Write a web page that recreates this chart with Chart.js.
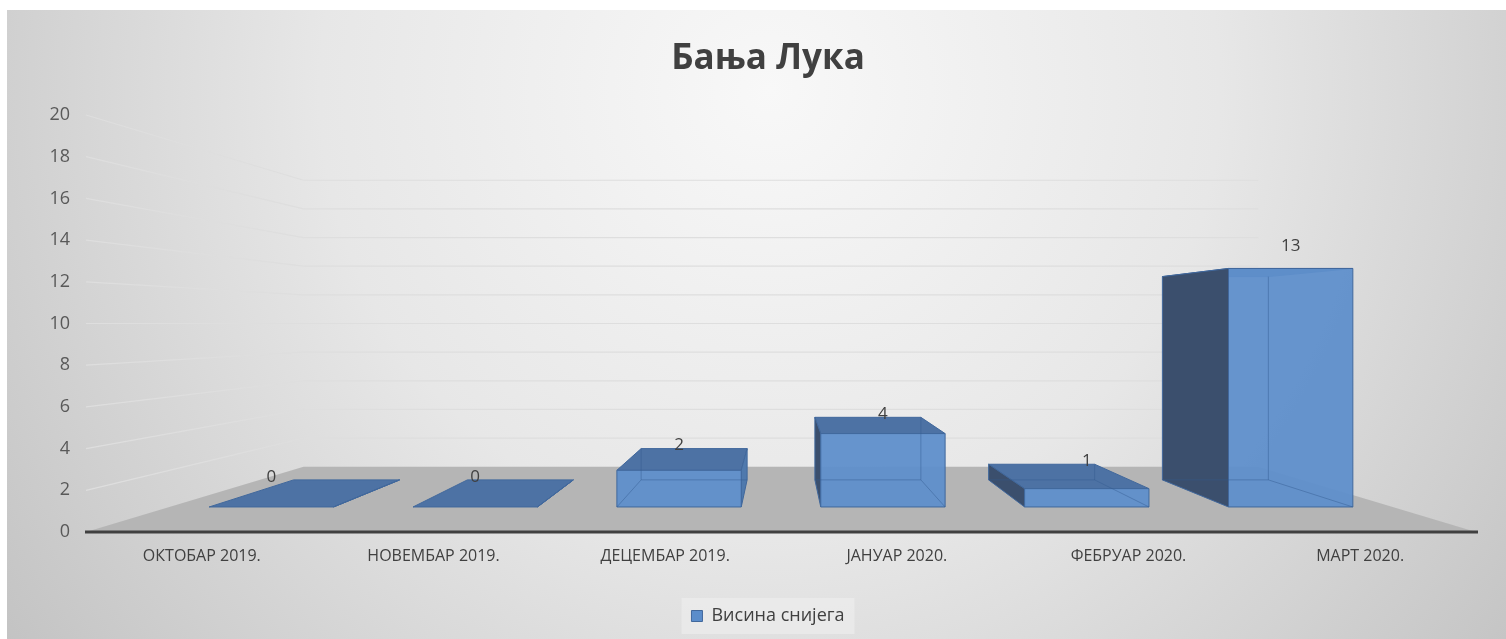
<!DOCTYPE html>
<html>
<head>
<meta charset="utf-8">
<title>Бања Лука</title>
<script src="https://cdn.jsdelivr.net/npm/chart.js@4/dist/chart.umd.min.js"></script>
<style>
  html, body { margin: 0; padding: 0; background: #ffffff; }
  #chart { display: block; }
</style>
</head>
<body>
<canvas id="chart" width="1506" height="639"></canvas>
<script>
'use strict';

// Chart data
const categories = ['ОКТОБАР 2019.', 'НОВЕМБАР 2019.', 'ДЕЦЕМБАР 2019.', 'ЈАНУАР 2020.', 'ФЕБРУАР 2020.', 'МАРТ 2020.'];
const snowDepth = [0, 0, 2, 4, 1, 13];
const seriesName = 'Висина снијега';
const chartTitle = 'Бања Лука';
const yMin = 0;
const yMax = 20;
const yStep = 2;

// Perspective: depth factors toward the plot centre (front plane = 1)
const WALL_DEPTH = 0.687;
const BAR_FRONT = 0.88;
const BAR_BACK = 0.75;

const FONT = "'Open Sans', 'Noto Sans', sans-serif";

const colors = {
  front: 'rgba(95, 143, 203, 0.95)',
  top: '#4d72a4',
  sideDark: '#3b4f6d',
  sideLight: '#4f79ad',
  edge: '#41689c',
  hidden: 'rgba(50, 90, 145, 0.45)',
  floor: '#b5b5b5',
  grid: '#dedede',
  axis: '#404040',
  text: '#404040',
  tick: '#595959',
};

/**
 * Move a point toward the vanishing point by depth factor k
 */
function project(x, y, k, vp) {
  return { x: vp.x + (x - vp.x) * k, y: vp.y + (y - vp.y) * k };
}

function poly(ctx, pts, fill, stroke) {
  ctx.beginPath();
  ctx.moveTo(pts[0].x, pts[0].y);
  for (let i = 1; i < pts.length; i++) ctx.lineTo(pts[i].x, pts[i].y);
  ctx.closePath();
  if (fill) {
    ctx.fillStyle = fill;
    ctx.fill();
  }
  if (stroke) {
    ctx.strokeStyle = stroke;
    ctx.lineWidth = 1;
    ctx.stroke();
  }
}

function line(ctx, a, b, color, width) {
  ctx.beginPath();
  ctx.moveTo(a.x, a.y);
  ctx.lineTo(b.x, b.y);
  ctx.strokeStyle = color;
  ctx.lineWidth = width;
  ctx.stroke();
}

function vanishingPoint(chart) {
  const a = chart.chartArea;
  return { x: (a.left + a.right) / 2, y: (a.top + a.bottom) / 2 };
}

// Background, legend panel, floor, walls and axis line
const scenePlugin = {
  id: 'scene3d',
  beforeDraw(chart) {
    const { ctx, width, height } = chart;
    const area = chart.chartArea;
    const yScale = chart.scales.y;
    const vp = vanishingPoint(chart);

    ctx.save();
    ctx.fillStyle = '#ffffff';
    ctx.fillRect(0, 0, width, height);
    const bg = ctx.createRadialGradient(770, 90, 0, 770, 90, 1000);
    bg.addColorStop(0, '#f8f8f8');
    bg.addColorStop(0.45, '#e7e7e7');
    bg.addColorStop(1, '#bfbfbf');
    ctx.fillStyle = bg;
    ctx.fillRect(7, 10, width - 7, height - 10);

    // legend panel
    const hb = chart.legend && chart.legend.legendHitBoxes && chart.legend.legendHitBoxes[0];
    if (hb) {
      ctx.fillStyle = 'rgba(240, 240, 240, 0.55)';
      ctx.fillRect(hb.left - 10, hb.top - 9, hb.width + 20, hb.height + 18);
    }

    // floor
    const floor = [
      { x: area.left, y: area.bottom },
      { x: area.right, y: area.bottom },
      project(area.right, area.bottom, WALL_DEPTH, vp),
      project(area.left, area.bottom, WALL_DEPTH, vp),
    ];
    poly(ctx, floor, colors.floor);

    // side wall and back wall grid lines
    for (let v = yMin + yStep; v <= yMax; v += yStep) {
      const y = yScale.getPixelForValue(v);
      const backLeft = project(area.left, y, WALL_DEPTH, vp);
      const backRight = project(area.right, y, WALL_DEPTH, vp);
      line(ctx, { x: area.left, y }, backLeft, colors.grid, 1.2);
      line(ctx, backLeft, backRight, colors.grid, 1.2);
    }

    // front axis line
    line(ctx, { x: area.left - 1, y: area.bottom }, { x: area.right + 2, y: area.bottom }, colors.axis, 3);
    ctx.restore();
  },
};

// 3D boxes drawn from the bar elements
const barsPlugin = {
  id: 'bars3d',
  beforeDatasetDraw(chart, args) {
    const { ctx } = chart;
    const meta = args.meta;
    const vp = vanishingPoint(chart);

    ctx.save();
    meta.data.forEach((bar, i) => {
      const xl = bar.x - bar.width / 2;
      const xr = bar.x + bar.width / 2;
      const yt = Math.min(bar.y, bar.base);
      const yb = Math.max(bar.y, bar.base);

      const fLT = project(xl, yt, BAR_FRONT, vp);
      const fRT = project(xr, yt, BAR_FRONT, vp);
      const fRB = project(xr, yb, BAR_FRONT, vp);
      const fLB = project(xl, yb, BAR_FRONT, vp);
      const bLT = project(xl, yt, BAR_BACK, vp);
      const bRT = project(xr, yt, BAR_BACK, vp);
      const bRB = project(xr, yb, BAR_BACK, vp);
      const bLB = project(xl, yb, BAR_BACK, vp);

      const showLeft = bar.x > vp.x;

      // top face
      poly(ctx, [fLT, fRT, bRT, bLT], colors.top, colors.edge);

      // visible side face
      if (showLeft) {
        poly(ctx, [fLT, bLT, bLB, fLB], colors.sideDark, colors.edge);
      } else {
        poly(ctx, [fRT, bRT, bRB, fRB], colors.sideLight, colors.edge);
      }

      // front face
      if (yb - yt > 0.5) {
        poly(ctx, [fLT, fRT, fRB, fLB], colors.front, colors.edge);

        // hidden edges seen through the box
        const farTop = showLeft ? bRT : bLT;
        const farBottom = showLeft ? bRB : bLB;
        const nearBottom = showLeft ? fRB : fLB;
        line(ctx, farTop, farBottom, colors.hidden, 1);
        line(ctx, bLB, bRB, colors.hidden, 1);
        line(ctx, nearBottom, farBottom, colors.hidden, 1);
      }

      // value label: on the top face when it is visible, otherwise above the box
      const labelY = bLT.y <= fLT.y ? bLT.y - 3 : fLT.y - 22;
      ctx.fillStyle = colors.text;
      ctx.font = '17px ' + FONT;
      ctx.textAlign = 'center';
      ctx.textBaseline = 'middle';
      ctx.fillText(String(snowDepth[i]), (fLT.x + fRT.x) / 2, labelY);
    });
    ctx.restore();
    return false;
  },
};

const canvas = document.getElementById('chart');

new Chart(canvas, {
  type: 'bar',
  data: {
    labels: categories,
    datasets: [
      {
        label: seriesName,
        data: snowDepth,
        backgroundColor: '#5b8dcb',
        borderColor: colors.edge,
        borderWidth: 1,
        barPercentage: 0.61,
        categoryPercentage: 1,
      },
    ],
  },
  options: {
    responsive: false,
    animation: false,
    layout: {
      padding: { left: 30, right: 0, top: 0, bottom: 4 },
    },
    plugins: {
      title: {
        display: true,
        text: chartTitle,
        color: colors.text,
        font: { family: FONT, size: 35, weight: 'bold' },
        padding: { top: 38, bottom: 35 },
      },
      legend: {
        position: 'bottom',
        labels: {
          color: colors.text,
          font: { family: FONT, size: 18 },
          boxWidth: 11,
          boxHeight: 11,
          padding: 12,
        },
      },
      tooltip: { enabled: false },
    },
    scales: {
      x: {
        grid: { display: false, drawTicks: false },
        border: { display: false },
        ticks: {
          color: colors.text,
          font: { family: FONT, size: 16 },
          padding: 15,
          maxRotation: 0,
          autoSkip: false,
        },
        afterFit(scale) {
          scale.height = 63;
        },
      },
      y: {
        min: yMin,
        max: yMax,
        grid: { display: false, drawTicks: false },
        border: { display: false },
        ticks: {
          stepSize: yStep,
          color: colors.tick,
          font: { family: FONT, size: 18 },
          padding: 16,
        },
        afterFit(scale) {
          scale.width = 56;
        },
      },
      // empty right margin so the plot ends where the reference does
      yRight: {
        position: 'right',
        display: true,
        min: yMin,
        max: yMax,
        grid: { display: false, drawTicks: false },
        border: { display: false },
        ticks: { display: false },
        afterFit(scale) {
          scale.width = 30;
        },
      },
    },
  },
  plugins: [scenePlugin, barsPlugin],
});
</script>
</body>
</html>
